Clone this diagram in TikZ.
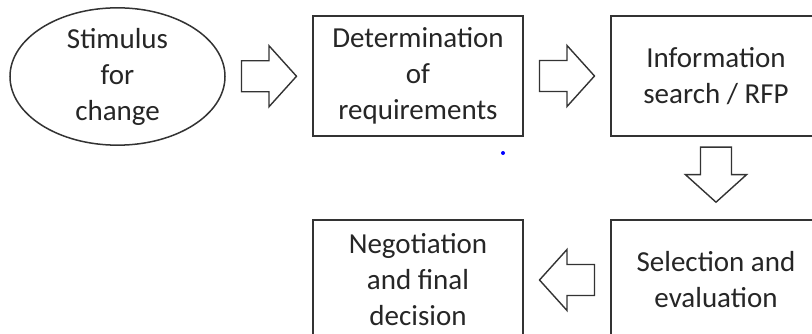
\documentclass[tikz,border=0pt]{standalone}
\usepackage{fontspec}
\setmainfont{Carlito}
\usetikzlibrary{shapes.geometric,calc}
\begin{document}
\begin{tikzpicture}[x=1pt,y=-1pt,
  stage/.style={draw=black!80, line width=1.5pt, fill=white, text=black!85,
    align=center, font=\fontsize{29}{36}\selectfont, inner sep=0pt},
  stagebox/.style={stage, rectangle, minimum width=210pt, minimum height=120pt},
  stageoval/.style={stage, ellipse, minimum width=215pt, minimum height=121pt},
  pics/blockarrow/.style={code={
    \draw[draw=black!80, line width=1.4pt, fill=white, line join=miter]
      (-27.5pt,-15.5pt) -- (0pt,-15.5pt) -- (0pt,-30.5pt) -- (27.5pt,0pt)
      -- (0pt,30.5pt) -- (0pt,15.5pt) -- (-27.5pt,15.5pt) -- cycle;}}
]
\useasboundingbox (0,0) rectangle (812,334);
\clip (0,0) rectangle (812,334);

% process stages
\node[stageoval] (stim) at (117.5,76.5) {Stimulus\\for\\change};
\node[stagebox]  (req)  at (418,76)  {Determination\\of\\requirements};
\node[stagebox]  (info) at (716,76)  {Information\\search / RFP};
\node[stagebox]  (sel)  at (716,280) {Selection and\\evaluation};
\node[stagebox]  (neg)  at (418,280) {Negotiation\\and final\\decision};

% block arrows between stages
\pic at ($(stim.east)!0.5!(req.west)$) {blockarrow};
\pic at ($(req.east)!0.5!(info.west)$) {blockarrow};
\pic[rotate=-90] at ($(info.south)!0.46!(sel.north)$) {blockarrow};
\pic[rotate=180] at ($(sel.west)!0.5!(neg.east)$) {blockarrow};

% small blue mark
\fill[blue] (503,153) circle (2pt);
\end{tikzpicture}
\end{document}
